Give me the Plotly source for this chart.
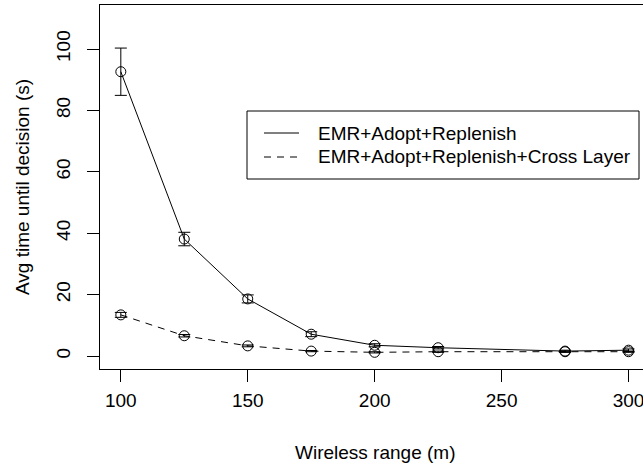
import plotly.graph_objects as go

# ---- data ----
wireless_range = [100, 125, 150, 175, 200, 225, 275, 300]
series_names = ["EMR+Adopt+Replenish", "EMR+Adopt+Replenish+Cross Layer"]
time_base = [92.6, 38.1, 18.6, 7.1, 3.5, 2.7, 1.6, 1.9]
err_base = [7.7, 2.2, 1.3, 0.8, 0.5, 0.4, 0.3, 0.4]
time_cross = [13.4, 6.6, 3.3, 1.6, 1.2, 1.4, 1.4, 1.4]
err_cross = [0.8, 0.4, 0.3, 0.2, 0.2, 0.2, 0.2, 0.2]
x_ticks = [100, 150, 200, 250, 300]
y_ticks = [0, 20, 40, 60, 80, 100]

W, H = 643, 465
L, R, T, B = 100, 0, 5, 96
PW, PH = W - L - R, H - T - B
FONT = "Liberation Sans, Arial, Helvetica, sans-serif"
FS = 19


def px_x(p):
    return (p - L) / PW


def px_y(p):
    return (H - B - p) / PH


fig = go.Figure()
dashes = ["solid", "7px,6px"]
for name, ys, es, dash in [(series_names[0], time_base, err_base, dashes[0]),
                           (series_names[1], time_cross, err_cross, dashes[1])]:
    fig.add_trace(go.Scatter(
        x=wireless_range, y=ys, name=name, mode="lines+markers",
        line=dict(color="black", width=1, dash=dash),
        marker=dict(symbol="circle-open", size=10, color="black",
                    line=dict(width=1, color="black")),
        error_y=dict(type="data", array=es, visible=True, color="black",
                     thickness=1, width=6),
        showlegend=False,
        cliponaxis=False,
    ))

fig.update_xaxes(
    range=[91.8, 305.7], tickvals=x_ticks, ticktext=[str(v) for v in x_ticks],
    showline=True, linecolor="black", linewidth=1, mirror=True,
    ticks="outside", ticklen=12, tickwidth=1, tickcolor="black",
    showgrid=False, zeroline=False, ticklabeloverflow="allow",
    ticklabelstandoff=2,
    tickfont=dict(family=FONT, size=FS, color="black"),
)
fig.update_yaxes(
    range=[-4.23, 114.33], tickvals=y_ticks, ticktext=[str(v) for v in y_ticks],
    showline=True, linecolor="black", linewidth=1, mirror=False,
    ticks="outside", ticklen=12, tickwidth=1, tickcolor="black",
    showgrid=False, zeroline=False, tickangle=-90,
    ticklabelstandoff=9,
    tickfont=dict(family=FONT, size=FS, color="black"),
)

shapes = [
    dict(type="rect", xref="paper", yref="paper",
         x0=px_x(247), x1=px_x(639), y0=px_y(179), y1=px_y(111),
         line=dict(color="black", width=1), fillcolor="white", layer="above"),
    dict(type="line", xref="paper", yref="paper",
         x0=px_x(264), x1=px_x(299), y0=px_y(133), y1=px_y(133),
         line=dict(color="black", width=1)),
    dict(type="line", xref="paper", yref="paper",
         x0=px_x(264), x1=px_x(299), y0=px_y(157), y1=px_y(157),
         line=dict(color="black", width=1, dash="7px,6px")),
]
annotations = [
    dict(text=series_names[0], xref="paper", yref="paper", x=px_x(316), y=px_y(133),
         xanchor="left", yanchor="middle", showarrow=False,
         font=dict(family=FONT, size=FS, color="black")),
    dict(text=series_names[1], xref="paper", yref="paper", x=px_x(316), y=px_y(157),
         xanchor="left", yanchor="middle", showarrow=False,
         font=dict(family=FONT, size=FS, color="black")),
    dict(text="Wireless range (m)", xref="paper", yref="paper", x=px_x(374.5), y=px_y(452),
         xanchor="center", yanchor="middle", showarrow=False,
         font=dict(family=FONT, size=FS, color="black")),
    dict(text="Avg time until decision (s)", xref="paper", yref="paper", x=px_x(22), y=px_y(187),
         xanchor="center", yanchor="middle", showarrow=False, textangle=-90,
         font=dict(family=FONT, size=FS, color="black")),
]

fig.update_layout(
    width=W, height=H, margin=dict(l=L, r=R, t=T, b=B, pad=0),
    paper_bgcolor="white", plot_bgcolor="white",
    shapes=shapes, annotations=annotations, showlegend=False,
)

fig.write_html("out.html")
